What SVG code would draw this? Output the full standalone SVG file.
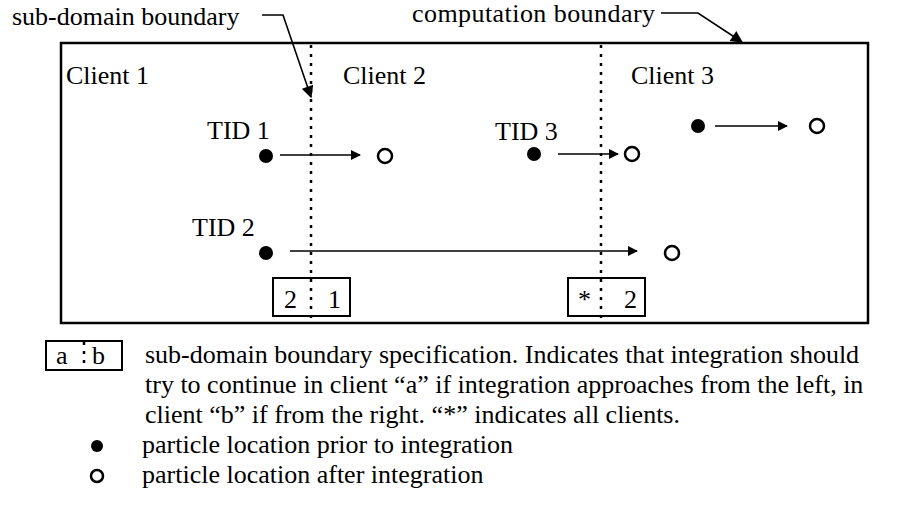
<svg xmlns="http://www.w3.org/2000/svg" width="900" height="505" viewBox="0 0 900 505">
<defs>
<style>
text{font-family:"Liberation Serif","Times New Roman",serif;font-size:26px;fill:#000}
.frame{fill:none;stroke:#000;stroke-width:2.5}
.div{fill:none;stroke:#000;stroke-width:2.5;stroke-dasharray:3,6}
.box{fill:#fff;stroke:#000;stroke-width:2}
.dot{fill:#000}
.open{fill:none;stroke:#000;stroke-width:2.5}
.conn{fill:none;stroke:#000;stroke-width:1.6}
</style>
<marker id="ah" viewBox="0 0 10 10" refX="9" refY="5" markerWidth="11" markerHeight="10" markerUnits="userSpaceOnUse" orient="auto"><path d="M0,0 L10,5 L0,10 z" fill="#000"/></marker>
<marker id="ah2" viewBox="0 0 10 10" refX="9" refY="5" markerWidth="14" markerHeight="12" markerUnits="userSpaceOnUse" orient="auto"><path d="M0,0 L10,5 L0,10 z" fill="#000"/></marker>
</defs>
<rect width="900" height="505" fill="#fff"/>
<g id="domain">
<rect class="frame" x="61" y="43" width="807" height="280"/>
<line class="div" x1="311" y1="45" x2="311" y2="323"/>
<line class="div" x1="601" y1="45" x2="601" y2="323"/>
<text x="66" y="84">Client 1</text>
<text x="343" y="84">Client 2</text>
<text x="631" y="84">Client 3</text>
</g>
<g id="labels">
<text x="12" y="25">sub-domain boundary</text>
<text x="412" y="22" textLength="243">computation boundary</text>
</g>
<g id="tid1">
<text x="207" y="139">TID 1</text>
<circle class="dot" cx="266" cy="156" r="7"/>
<circle class="open" cx="385" cy="156" r="7"/>
</g>
<g id="tid2">
<text x="192" y="236">TID 2</text>
<circle class="dot" cx="266" cy="253" r="7"/>
<circle class="open" cx="672" cy="253" r="7"/>
</g>
<g id="tid3">
<text x="495" y="140">TID 3</text>
<circle class="dot" cx="534" cy="154" r="7"/>
<circle class="open" cx="632" cy="154" r="7"/>
</g>
<g id="particle4">
<circle class="dot" cx="698" cy="126" r="7"/>
<circle class="open" cx="817" cy="126" r="7"/>
</g>
<g id="spec1">
<rect class="box" x="273" y="278" width="77" height="38"/>
<line class="div" x1="311" y1="279" x2="311" y2="316"/>
<text x="284" y="308">2</text>
<text x="328" y="308">1</text>
</g>
<g id="spec2">
<rect class="box" x="568" y="278" width="77" height="38"/>
<line class="div" x1="601" y1="279" x2="601" y2="316"/>
<text x="578" y="308">*</text>
<text x="624" y="308">2</text>
</g>
<g id="connectors">
<line class="conn" x1="280" y1="155" x2="360" y2="155" marker-end="url(#ah)"/>
<line class="conn" x1="558" y1="154" x2="618" y2="154" marker-end="url(#ah)"/>
<line class="conn" x1="715" y1="126" x2="787" y2="126" marker-end="url(#ah)"/>
<line class="conn" x1="290" y1="251" x2="637" y2="251" marker-end="url(#ah)"/>
<polyline class="conn" points="262,15 283,15 311,97" marker-end="url(#ah2)"/>
<polyline class="conn" points="661,13 698,13 742,42" marker-end="url(#ah2)"/>
</g>
<g id="legend">
<rect class="box" x="46" y="341" width="76" height="29"/>
<line class="div" x1="84" y1="342" x2="84" y2="369"/>
<text x="56" y="364">a</text>
<text x="92" y="364">b</text>
<text x="145" y="363">sub-domain boundary specification.  Indicates that integration should</text>
<text x="145" y="393">try to continue in client “a” if integration approaches from the left, in</text>
<text x="145" y="423">client “b” if from the right.  “*” indicates all clients.</text>
<circle class="dot" cx="97" cy="446" r="6"/>
<text x="142" y="453">particle location prior to integration</text>
<circle class="open" cx="97" cy="476" r="6"/>
<text x="142" y="483">particle location after integration</text>
</g>
</svg>
